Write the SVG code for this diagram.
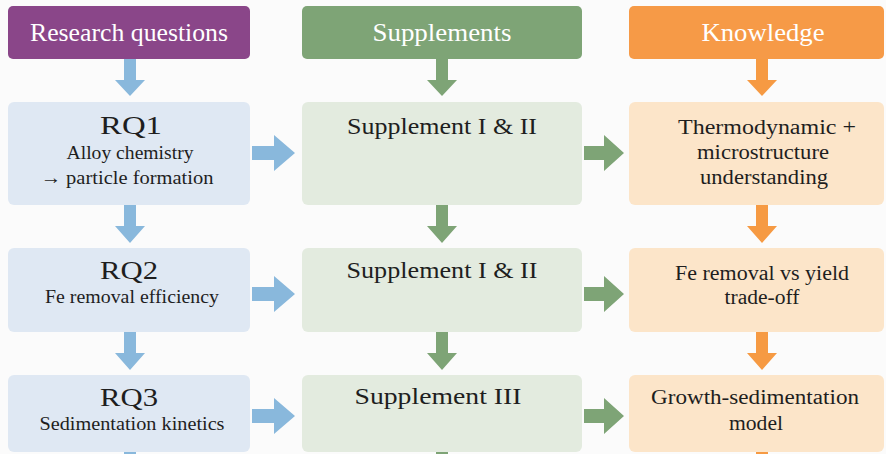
<svg xmlns="http://www.w3.org/2000/svg" width="886" height="454" viewBox="0 0 886 454">
<style>
text{text-anchor:middle;fill:#1e1e1e}
.hd{font-size:25px;fill:#ffffff}
.rq{font-size:25px}
.sub{font-size:18.5px}
.sp{font-size:23px}
.kn{font-size:20px}
.blue{fill:#89b8dc}
.green{fill:#7ea476}
.orange{fill:#f69a43}
</style>
<rect width="886" height="454" fill="#fbfbfb"/>
<g font-family="'Liberation Serif', 'Times New Roman', 'DejaVu Serif', serif" lengthAdjust="spacingAndGlyphs">
<g id="header-rq"><rect x="8" y="6" width="242" height="53" rx="5" fill="#8a4689"/><text class="hd" x="129" y="41" textLength="198" lengthAdjust="spacingAndGlyphs">Research questions</text></g>
<g id="header-sup"><rect x="302" y="6" width="280" height="53" rx="5" fill="#7ea476"/><text class="hd" x="442" y="41" textLength="139" lengthAdjust="spacingAndGlyphs">Supplements</text></g>
<g id="header-kn"><rect x="629" y="6" width="255" height="53" rx="5" fill="#f69a47"/><text class="hd" x="763" y="41" textLength="123" lengthAdjust="spacingAndGlyphs">Knowledge</text></g>

<g id="rq1"><rect x="8" y="102" width="242" height="103" rx="6" fill="#dfe8f3"/><text class="rq" x="131" y="134" textLength="62" lengthAdjust="spacingAndGlyphs">RQ1</text><text class="sub" x="130" y="159" textLength="127" lengthAdjust="spacingAndGlyphs">Alloy chemistry</text><text class="sub" x="127" y="184" textLength="173" lengthAdjust="spacingAndGlyphs">→ particle formation</text></g>
<g id="sup1"><rect x="302" y="102" width="280" height="103" rx="6" fill="#e3ebdf"/><text class="sp" x="442" y="134" textLength="190" lengthAdjust="spacingAndGlyphs">Supplement I &amp; II</text></g>
<g id="kn1"><rect x="629" y="102" width="255" height="103" rx="6" fill="#fce5c9"/><text class="kn" x="767" y="134" textLength="178" lengthAdjust="spacingAndGlyphs">Thermodynamic +</text><text class="kn" x="763" y="159" textLength="132" lengthAdjust="spacingAndGlyphs">microstructure</text><text class="kn" x="764" y="184" textLength="128" lengthAdjust="spacingAndGlyphs">understanding</text></g>

<g id="rq2"><rect x="8" y="248" width="242" height="84" rx="6" fill="#dfe8f3"/><text class="rq" x="129" y="279" textLength="58" lengthAdjust="spacingAndGlyphs">RQ2</text><text class="sub" x="132" y="303" textLength="174" lengthAdjust="spacingAndGlyphs">Fe removal efficiency</text></g>
<g id="sup2"><rect x="302" y="248" width="280" height="84" rx="6" fill="#e3ebdf"/><text class="sp" x="442" y="278" textLength="191" lengthAdjust="spacingAndGlyphs">Supplement I &amp; II</text></g>
<g id="kn2"><rect x="629" y="248" width="255" height="84" rx="6" fill="#fce5c9"/><text class="kn" x="762" y="280" textLength="174" lengthAdjust="spacingAndGlyphs">Fe removal vs yield</text><text class="kn" x="762" y="304" textLength="75" lengthAdjust="spacingAndGlyphs">trade-off</text></g>

<g id="rq3"><rect x="8" y="375" width="242" height="77" rx="6" fill="#dfe8f3"/><text class="rq" x="129" y="406" textLength="58" lengthAdjust="spacingAndGlyphs">RQ3</text><text class="sub" x="132" y="430" textLength="185" lengthAdjust="spacingAndGlyphs">Sedimentation kinetics</text></g>
<g id="sup3"><rect x="302" y="375" width="280" height="77" rx="6" fill="#e3ebdf"/><text class="sp" x="438" y="404" textLength="167" lengthAdjust="spacingAndGlyphs">Supplement III</text></g>
<g id="kn3"><rect x="629" y="375" width="255" height="77" rx="6" fill="#fce5c9"/><text class="kn" x="755" y="404" textLength="208" lengthAdjust="spacingAndGlyphs">Growth-sedimentation</text><text class="kn" x="756" y="430" textLength="54" lengthAdjust="spacingAndGlyphs">model</text></g>
</g>

<g id="connectors">
<path class="blue" d="M124 59h12v21h9l-15 16l-15-16h9z"/>
<path class="green" d="M436 59h12v21h9l-15 16l-15-16h9z"/>
<path class="orange" d="M756 59h12v21h9l-15 16l-15-16h9z"/>
<path class="blue" d="M124 205h12v21h9l-15 17l-15-17h9z"/>
<path class="green" d="M436 205h12v21h9l-15 17l-15-17h9z"/>
<path class="orange" d="M756 205h12v21h9l-15 17l-15-17h9z"/>
<path class="blue" d="M124 332h12v21h9l-15 17l-15-17h9z"/>
<path class="green" d="M436 332h12v21h9l-15 17l-15-17h9z"/>
<path class="orange" d="M756 332h12v21h9l-15 17l-15-17h9z"/>
<rect class="blue" x="124" y="452" width="12" height="2"/>
<rect class="green" x="436" y="452" width="12" height="2"/>
<rect class="orange" x="756" y="452" width="12" height="2"/>
<path class="blue" d="M252 146h22v-11l21 18l-21 18v-11h-22z"/>
<path class="green" d="M584 146h20v-11l20 18l-20 18v-11h-20z"/>
<path class="blue" d="M252 287h22v-11l21 18l-21 18v-11h-22z"/>
<path class="green" d="M584 287h20v-11l20 18l-20 18v-11h-20z"/>
<path class="blue" d="M252 409h22v-11l21 18l-21 18v-11h-22z"/>
<path class="green" d="M584 409h20v-11l20 18l-20 18v-11h-20z"/>
</g>
</svg>
